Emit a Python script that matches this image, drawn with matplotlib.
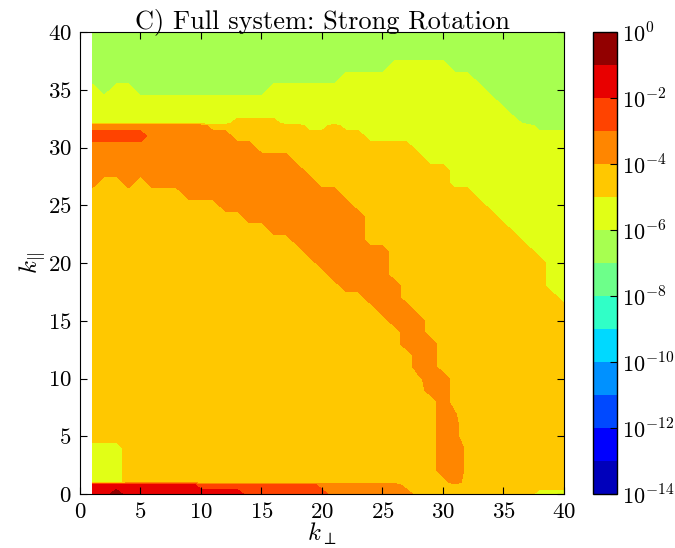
import numpy as np
import matplotlib
matplotlib.use("Agg")
import matplotlib.pyplot as plt

plt.rcParams["font.family"] = "serif"
plt.rcParams["font.serif"] = ["cmr10"]
plt.rcParams["mathtext.fontset"] = "cm"
plt.rcParams["axes.formatter.use_mathtext"] = True

# ---- data -------------------------------------------------------------
# k_perp nodes (columns) and k_par nodes (rows)
kperp_nodes = list(range(1, 41))
kpar_nodes = [0, 0.8, 1, 2, 3, 4, 5, 6, 7, 8, 9, 10, 11, 12, 13, 14, 15, 16,
              17, 18, 19, 20, 21, 22, 23, 24, 25, 26, 27, 28, 29, 30, 31,
              31.9, 32.1, 33, 34, 35, 36, 37, 38, 39, 40]
# run-length encoded rows "v:count": an integer v is the decade band
# (value between 10^-(v+1) and 10^-v, read at its middle); a decimal v is
# the value -log10 read directly at that node.
band_rows = [
    "1:2 0:1 1:10 2:7 3:7 4:10 5:3",          # 0
    "1:9 2:10 3:7 4:14",                      # 0.8
    "5:3 4:27 3:1 4:9",                       # 1
    "5:3 4:26 3:2 4.2:1 4:8",                 # 2
    "5:3 4:26 3:2 4.2:1 4:8",                 # 3
    "5:3 4:26 3:2 4.2:1 4:8",                 # 4
    "4:29 3:1 3.8:1 4:9",                     # 5
    "4:29 3:1 3.8:1 4:9",                     # 6
    "4:29 3:1 3.95:1 4:9",                    # 7
    "4:29 3:1 4:10",                          # 8
    "4:28 3:2 4:10",                          # 9
    "4:27 4.2:1 3:2 4:10",                    # 10
    "4:27 3:2 4:11",                          # 11
    "4:27 3:2 4:11",                          # 12
    "4:26 3:3 4:11",                          # 13
    "4:26 3:2 4:12",                          # 14
    "4:25 3:3 4:12",                          # 15
    "4:24 3:3 4:13",                          # 16
    "4:23 3:3 4:13 5:1",                      # 17
    "4:21 3:5 4:12 5:2",                      # 18
    "4:20 3:5 4:13 5:2",                      # 19
    "4:19 3:6 4:13 5:2",                      # 20
    "4:18 3:7 4:12 5:3",                      # 21
    "4:17 3:6 4:13 5:4",                      # 22
    "4:15 3:8 4:12 5:5",                      # 23
    "4:13 3:10 4:11 5:6",                     # 24
    "4:11 3:11 4:11 5:7",                     # 25
    "4:8 3:13 4:11 5:8",                      # 26
    "3:1 4:2 3:1 4:1 3:14 4:11 5:10",         # 27
    "3:18 4:12 5:10",                         # 28
    "3:17 4:11 5:12",                         # 29
    "3:14 4:13 5:13",                         # 30
    "2:5 3:7 4:11 5:17",                      # 31
    "3:10 4:8 5:2 4:1 5:16 6:3",              # 31.9
    "5:12 4:4 5:20 6:4",                      # 32.1
    "5:35 6:5",                               # 33
    "5:34 6:6",                               # 34
    "5:1 6:1 5:2 6:11 5:18 6:7",              # 35
    "6:21 5:11 6:8",                          # 36
    "6:25 5:5 6:10",                          # 37
    "6:40",                                   # 38
    "6:40",                                   # 39
    "6:40",                                   # 40
]
level_exponents = list(range(-14, 1))
cbar_exponents = [-14, -12, -10, -8, -6, -4, -2, 0]
title_text = "C) Full system: Strong Rotation"

# ---- build field --------------------------------------------------------
def decode(row):
    vals = []
    for tok in row.split():
        v, n = tok.split(":")
        val = -float(v) if "." in v else -(int(v) + 0.5)
        vals += [val] * int(n)
    assert len(vals) == len(kperp_nodes), row
    return vals

logZ = np.array([decode(r) for r in band_rows])
K, P = np.meshgrid(kperp_nodes, kpar_nodes)

# band colours: jet sampled at the linear midpoint of each decade
levels = np.array(level_exponents, dtype=float)
lo, hi = 10.0 ** levels[:-1], 10.0 ** levels[1:]
pos = (np.log10(0.5 * (lo + hi)) - levels[0]) / (levels[-1] - levels[0])
band_colors = plt.get_cmap("jet")(pos)

# ---- plot ----------------------------------------------------------------
fig = plt.figure(figsize=(6.75, 5.48), dpi=100)
ax = fig.add_axes([0.1185, 0.0985, 0.7170, 0.8431])
cax = fig.add_axes([0.8785, 0.0985, 0.0356, 0.8431])

cs = ax.contourf(K, P, logZ, levels=levels, colors=band_colors)
ax.set_xlim(0, 40)
ax.set_ylim(0, 40)
ax.set_xticks(range(0, 41, 5))
ax.set_yticks(range(0, 41, 5))
ax.tick_params(direction="in", top=True, right=True, length=5, width=0.8,
               labelsize=16.5, pad=6)
ax.set_xlabel(r"$k_\perp$", fontsize=18, labelpad=-1)
ax.set_ylabel(r"$k_{||}$", fontsize=18, labelpad=0)
ax.set_title(title_text, fontsize=19, pad=3)

cb = fig.colorbar(cs, cax=cax)
cb.set_ticks(cbar_exponents)
cb.set_ticklabels([r"$10^{%d}$" % e for e in cbar_exponents])
cb.ax.tick_params(labelsize=16, direction="in", length=5)
cb.outline.set_linewidth(1.0)

fig.savefig("out.png", dpi=100)
